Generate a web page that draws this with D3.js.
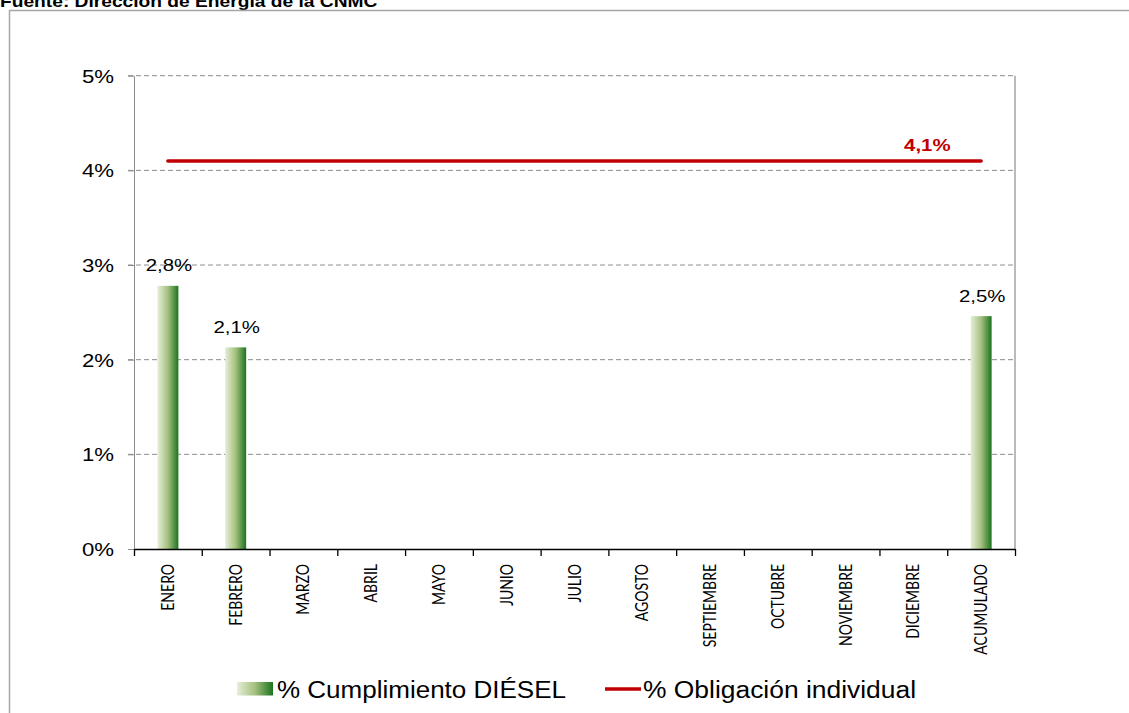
<!DOCTYPE html>
<html>
<head>
  <meta charset="utf-8">
  <title>Cumplimiento DIESEL</title>
  <script src="https://d3js.org/d3.v7.min.js"></script>
  <style>
    body { margin: 0; background: #fff; }
    svg { display: block; }
  </style>
</head>
<body>
<script>
  // data
  var categories = ['ENERO', 'FEBRERO', 'MARZO', 'ABRIL', 'MAYO', 'JUNIO', 'JULIO',
    'AGOSTO', 'SEPTIEMBRE', 'OCTUBRE', 'NOVIEMBRE', 'DICIEMBRE', 'ACUMULADO'];
  var cumplimiento = [2.78, 2.13, null, null, null, null, null, null, null, null, null, null, 2.46];
  var obligacion = [4.1, 4.1, 4.1, 4.1, 4.1, 4.1, 4.1, 4.1, 4.1, 4.1, 4.1, 4.1, 4.1];
  var yTicks = [0, 1, 2, 3, 4, 5];
  var legendLabels = ['% Cumplimiento DIÉSEL', '% Obligación individual'];
  var title = 'Fuente: Dirección de Energía de la CNMC';

  var width = 1129;
  var height = 713;
  var sx = 1.2; // the picture is a little wider than tall

  var es = d3.formatLocale({decimal: ',', thousands: '.', grouping: [3], currency: ['', '€']});
  var pct = function(d) { return es.format('.1f')(d) + '%'; };

  var svg = d3.select('body')
    .append('svg')
    .attr('width', width)
    .attr('height', height);

  var defs = svg.append('defs');
  var grad = defs.append('linearGradient')
    .attr('id', 'barGrad')
    .attr('x1', 0).attr('x2', 1).attr('y1', 0).attr('y2', 0);
  grad.append('stop').attr('offset', '0%').attr('stop-color', '#e6efda');
  grad.append('stop').attr('offset', '50%').attr('stop-color', '#a5c07e');
  grad.append('stop').attr('offset', '100%').attr('stop-color', '#1c7420');

  // title (cut off at the top, as in the source) and frame
  svg.append('text')
    .attr('transform', 'translate(0,6.5) scale(' + sx + ',1)')
    .attr('font-family', 'Liberation Sans, Arial, sans-serif')
    .attr('font-weight', 'bold')
    .attr('font-size', 16)
    .attr('fill', '#000')
    .text(title);

  svg.append('rect')
    .attr('x', 9.5).attr('y', 10.5)
    .attr('width', 1200).attr('height', 800)
    .attr('fill', 'none')
    .attr('stroke', '#a6a6a6')
    .attr('stroke-width', 1.5);

  // scales
  var x0 = 134, x1 = 1015;
  var y = d3.scaleLinear().domain([0, 5]).range([549, 75.7]);
  var xBand = d3.scaleBand()
    .domain(categories)
    .range([x0, x1])
    .paddingInner(0.69)
    .paddingOuter(0.345);
  var xEdge = d3.scaleLinear().domain([0, categories.length]).range([x0, x1]);
  var cx = function(d) { return xBand(d) + xBand.bandwidth() / 2; };

  // gridlines
  svg.append('g')
    .selectAll('line')
    .data(yTicks.filter(function(d) { return d > 0; }))
    .enter()
    .append('line')
    .attr('x1', x0 - 6).attr('x2', x1)
    .attr('y1', function(d) { return y(d); })
    .attr('y2', function(d) { return y(d); })
    .attr('stroke', '#8c8c8c')
    .attr('stroke-width', 1)
    .attr('stroke-dasharray', '5,3');

  // y axis
  var yAxis = svg.append('g')
    .attr('transform', 'translate(' + x0 + ',0)')
    .call(d3.axisLeft(y).tickValues(yTicks).tickSize(6).tickSizeOuter(0).tickFormat(''));
  yAxis.select('.domain').attr('stroke', '#8c8c8c');
  yAxis.selectAll('.tick line').attr('stroke', '#8c8c8c');

  svg.append('g')
    .selectAll('text')
    .data(yTicks)
    .enter()
    .append('text')
    .attr('transform', function(d) { return 'translate(114,' + (y(d) + 7) + ') scale(' + sx + ',1)'; })
    .attr('text-anchor', 'end')
    .attr('font-family', 'Liberation Sans, Arial, sans-serif')
    .attr('font-size', 18.5)
    .attr('fill', '#000')
    .text(function(d) { return d + '%'; });

  // right border of plot
  svg.append('line')
    .attr('x1', x1).attr('x2', x1)
    .attr('y1', y(5)).attr('y2', y(0))
    .attr('stroke', '#8c8c8c')
    .attr('stroke-width', 1.2);

  // bars
  var bars = categories.map(function(c, i) { return {cat: c, v: cumplimiento[i]}; })
    .filter(function(d) { return d.v != null; });

  svg.append('g')
    .selectAll('rect')
    .data(bars)
    .enter()
    .append('rect')
    .attr('x', function(d) { return xBand(d.cat); })
    .attr('y', function(d) { return y(d.v); })
    .attr('width', xBand.bandwidth())
    .attr('height', function(d) { return y(0) - y(d.v); })
    .attr('fill', 'url(#barGrad)');

  svg.append('g')
    .selectAll('text')
    .data(bars)
    .enter()
    .append('text')
    .attr('transform', function(d) { return 'translate(' + (cx(d.cat) + 1) + ',' + (y(d.v) - 14.5) + ') scale(' + sx + ',1)'; })
    .attr('text-anchor', 'middle')
    .attr('font-family', 'Liberation Sans, Arial, sans-serif')
    .attr('font-size', 17)
    .attr('fill', '#000')
    .text(function(d) { return pct(d.v); });

  // x axis
  var xAxis = svg.append('g')
    .attr('transform', 'translate(0,' + y(0) + ')')
    .call(d3.axisBottom(xEdge).tickValues(d3.range(categories.length + 1)).tickSize(7).tickSizeOuter(0).tickFormat(''));
  xAxis.select('.domain').attr('stroke', '#000').attr('stroke-width', 1.3);
  xAxis.selectAll('.tick line').attr('stroke', '#000').attr('stroke-width', 1.3);

  svg.append('g')
    .selectAll('text')
    .data(categories)
    .enter()
    .append('text')
    .attr('transform', function(d) { return 'translate(' + cx(d) + ',564) rotate(-90) scale(1,' + sx + ')'; })
    .attr('text-anchor', 'end')
    .attr('dy', '0.36em')
    .attr('font-family', 'Lato, Carlito, sans-serif')
    .attr('font-size', 14)
    .attr('fill', '#000')
    .text(function(d) { return d; });

  // obligation line
  var line = d3.line()
    .x(function(d, i) { return cx(categories[i]); })
    .y(function(d) { return y(d); });

  svg.append('path')
    .datum(obligacion)
    .attr('d', line)
    .attr('fill', 'none')
    .attr('stroke', '#c00000')
    .attr('stroke-width', 3.5)
    .attr('stroke-linecap', 'round');

  svg.append('text')
    .attr('transform', 'translate(' + (cx('DICIEMBRE') + 14) + ',' + (y(obligacion[11]) - 9.5) + ') scale(' + sx + ',1)')
    .attr('text-anchor', 'middle')
    .attr('font-family', 'Liberation Sans, Arial, sans-serif')
    .attr('font-weight', 'bold')
    .attr('font-size', 17)
    .attr('fill', '#c00000')
    .text(pct(obligacion[11]));

  // legend
  var legend = svg.append('g');
  legend.append('rect')
    .attr('x', 237).attr('y', 682)
    .attr('width', 36).attr('height', 13.5)
    .attr('fill', 'url(#barGrad)');
  legend.append('text')
    .attr('x', 277).attr('y', 698)
    .attr('font-family', 'Liberation Sans, Arial, sans-serif')
    .attr('font-size', 23)
    .attr('textLength', 289)
    .attr('lengthAdjust', 'spacingAndGlyphs')
    .attr('fill', '#000')
    .text(legendLabels[0]);
  legend.append('line')
    .attr('x1', 605).attr('x2', 641)
    .attr('y1', 689).attr('y2', 689)
    .attr('stroke', '#c00000')
    .attr('stroke-width', 3.5);
  legend.append('text')
    .attr('x', 643).attr('y', 698)
    .attr('font-family', 'Liberation Sans, Arial, sans-serif')
    .attr('font-size', 23)
    .attr('textLength', 273)
    .attr('lengthAdjust', 'spacingAndGlyphs')
    .attr('fill', '#000')
    .text(legendLabels[1]);
</script>
</body>
</html>
